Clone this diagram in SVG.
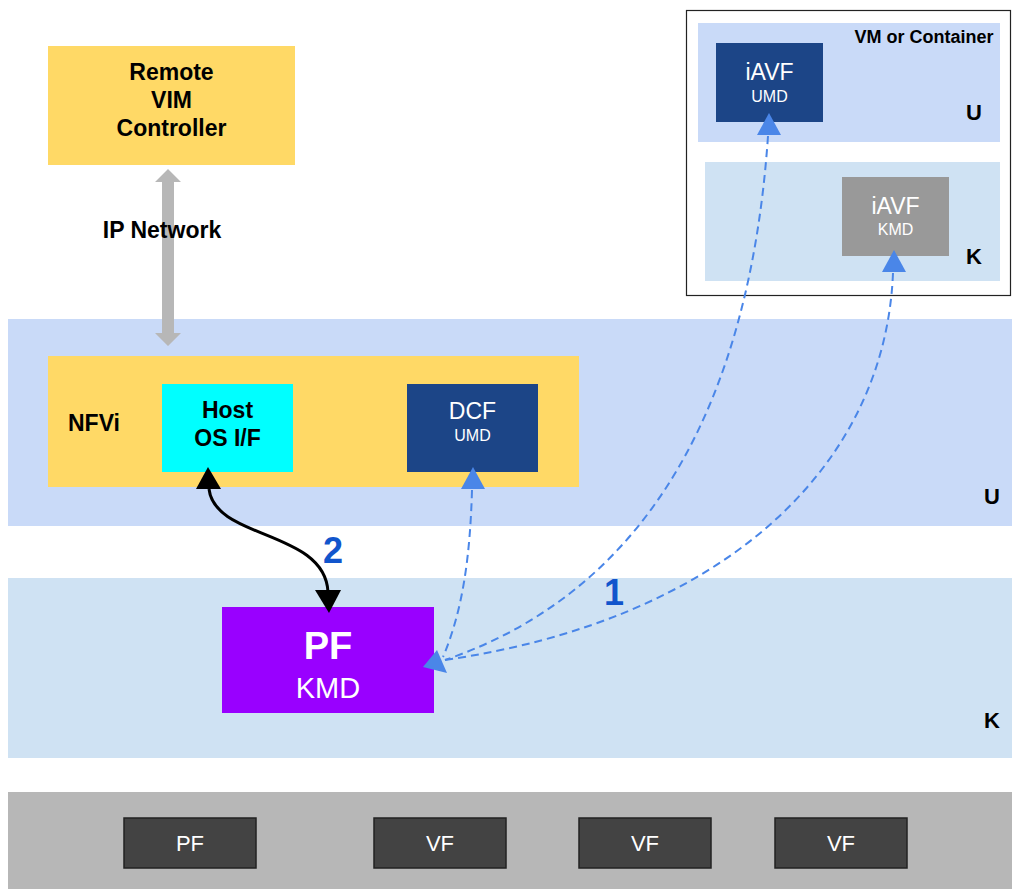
<svg xmlns="http://www.w3.org/2000/svg" width="1012" height="889" viewBox="0 0 1012 889">
<style>
text{font-family:"Liberation Sans",Arial,sans-serif;text-anchor:middle}
.b{font-weight:bold;fill:#000}
.w{fill:#fff}
.num{font-weight:bold;fill:#1155cc;font-size:36px}
.dash{fill:none;stroke:#4a86e8;stroke-width:2;stroke-dasharray:8 5}
.bh{fill:#4a86e8}
.hw{fill:#434343;stroke:#222;stroke-width:1.5}
</style>
<rect width="1012" height="889" fill="#fff"/>
<g id="bands">
<rect x="8" y="319" width="1004" height="207" fill="#c9daf8"/>
<rect x="8" y="578" width="1004" height="180" fill="#cfe2f3"/>
<rect x="8" y="792" width="1004" height="97" fill="#b7b7b7"/>
<text class="b" x="992" y="504" font-size="22">U</text>
<text class="b" x="992" y="728" font-size="22">K</text>
</g>
<g id="vm-container">
<rect x="686.5" y="10.5" width="324" height="285" fill="#fff" stroke="#222" stroke-width="1.2"/>
<rect x="698" y="23" width="302" height="119" fill="#c9daf8"/>
<rect x="705" y="162" width="295" height="119" fill="#cfe2f3"/>
<text class="b" x="924" y="43" font-size="18">VM or Container</text>
<text class="b" x="974" y="120" font-size="22">U</text>
<text class="b" x="974" y="264" font-size="22">K</text>
</g>
<g id="iavf-umd">
<rect x="716" y="43" width="107" height="79" fill="#1c4587"/>
<text class="w" x="769.5" y="80" font-size="23">iAVF</text>
<text class="w" x="769.5" y="102" font-size="16">UMD</text>
</g>
<g id="iavf-kmd">
<rect x="842" y="177" width="107" height="79" fill="#999999"/>
<text class="w" x="895.5" y="214" font-size="23">iAVF</text>
<text class="w" x="895.5" y="235" font-size="16">KMD</text>
</g>
<g id="remote-vim">
<rect x="48" y="46" width="247" height="119" fill="#ffd966"/>
<text class="b" x="171.5" y="80" font-size="23">Remote</text>
<text class="b" x="171.5" y="108" font-size="23">VIM</text>
<text class="b" x="171.5" y="136" font-size="23">Controller</text>
</g>
<g id="nfvi">
<rect x="48" y="356" width="531" height="131" fill="#ffd966"/>
<text class="b" x="94" y="431" font-size="23">NFVi</text>
</g>
<g id="host-os">
<rect x="162" y="384" width="131" height="88" fill="#00ffff"/>
<text class="b" x="227.5" y="418" font-size="23">Host</text>
<text class="b" x="227.5" y="446" font-size="23">OS I/F</text>
</g>
<g id="dcf">
<rect x="407" y="384" width="131" height="88" fill="#1c4587"/>
<text class="w" x="472.5" y="419" font-size="23">DCF</text>
<text class="w" x="472.5" y="441" font-size="16">UMD</text>
</g>
<g id="pf-kmd">
<rect x="222" y="607" width="212" height="106" fill="#9900ff"/>
<text class="w" x="328" y="659" font-size="38" font-weight="bold">PF</text>
<text class="w" x="328" y="698" font-size="29">KMD</text>
</g>
<g id="hw-pf"><rect class="hw" x="124" y="818" width="132" height="50"/><text class="w" x="190" y="851" font-size="22">PF</text></g>
<g id="hw-vf1"><rect class="hw" x="374" y="818" width="132" height="50"/><text class="w" x="440" y="851" font-size="22">VF</text></g>
<g id="hw-vf2"><rect class="hw" x="579" y="818" width="132" height="50"/><text class="w" x="645" y="851" font-size="22">VF</text></g>
<g id="hw-vf3"><rect class="hw" x="775" y="818" width="132" height="50"/><text class="w" x="841" y="851" font-size="22">VF</text></g>
<g id="connectors">
<polygon fill="#b7b7b7" points="168,169 181,182 174,182 174,333 181,333 168,346 155,333 162,333 162,182 155,182"/>
<text class="b" x="162" y="238" font-size="23">IP Network</text>
<path d="M209 489 C215 540 325 530 328 592" fill="none" stroke="#000" stroke-width="3"/>
<polygon fill="#000" points="208,467 221,489 196,489"/>
<polygon fill="#000" points="329,613 315,590 341,590"/>
<path class="dash" d="M472 490 C470 560 462 612 443 657"/>
<path class="dash" d="M768 136 C750 400 650 590 445 660"/>
<path class="dash" d="M893 273 C885 470 720 620 445 660"/>
<polygon class="bh" points="473,467 485,489 461,489"/>
<polygon class="bh" points="769,113 781,135 757,135"/>
<polygon class="bh" points="894,250 906,272 882,272"/>
<polygon class="bh" points="423,667 437,650 447,673"/>
<text class="num" x="333" y="563">2</text>
<text class="num" x="614" y="605">1</text>
</g>
</svg>
